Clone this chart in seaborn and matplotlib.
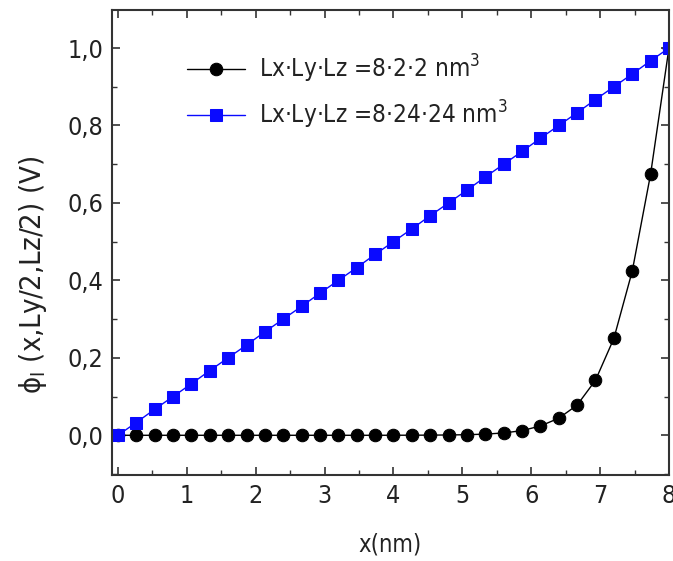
import matplotlib
matplotlib.use("Agg")
import matplotlib.pyplot as plt
import seaborn as sns
import pandas as pd
from matplotlib.ticker import MultipleLocator, FuncFormatter
from matplotlib import font_manager as fm

x_nm = [0.0, 0.267, 0.533, 0.8, 1.067, 1.333, 1.6, 1.867, 2.133, 2.4, 2.667,
        2.933, 3.2, 3.467, 3.733, 4.0, 4.267, 4.533, 4.8, 5.067, 5.333,
        5.6, 5.867, 6.133, 6.4, 6.667, 6.933, 7.2, 7.467, 7.733, 8.0]
phi_small = [0.0, 0.0, 0.0, 0.0, 0.0, 0.0, 0.0, 0.0, 0.0, 0.0, 0.0,
             0.0, 0.0, 0.0, 0.0, 0.0001, 0.0002, 0.0004, 0.0008, 0.0015, 0.003,
             0.006, 0.012, 0.024, 0.044, 0.078, 0.142, 0.25, 0.424, 0.674, 1.0]
phi_large = [0.0, 0.033, 0.067, 0.1, 0.133, 0.167, 0.2, 0.233, 0.267, 0.3, 0.333,
             0.367, 0.4, 0.433, 0.467, 0.5, 0.533, 0.567, 0.6, 0.633, 0.667,
             0.7, 0.733, 0.767, 0.8, 0.833, 0.867, 0.9, 0.933, 0.967, 1.0]
labels = [r"Lx·Ly·Lz =8·2·2 nm$^3$", r"Lx·Ly·Lz =8·24·24 nm$^3$"]

df_small = pd.DataFrame({"x": x_nm, "phi": phi_small})
df_large = pd.DataFrame({"x": x_nm, "phi": phi_large})

sns.set_theme(style="ticks")
names = {f.name for f in fm.fontManager.ttflist}
fam = "DejaVu Sans"
for cand in ["Liberation Sans Narrow", "DejaVu Sans Condensed"]:
    if cand in names:
        fam = cand
        break
plt.rcParams["font.family"] = [fam, "DejaVu Sans"]
plt.rcParams["font.stretch"] = "condensed"
plt.rcParams["mathtext.fontset"] = "custom"
plt.rcParams["mathtext.rm"] = fam
plt.rcParams["mathtext.it"] = fam
plt.rcParams["mathtext.sf"] = fam

fig = plt.figure(figsize=(6.73, 5.61), dpi=100)
ax = fig.add_axes([0.166, 0.153, 0.828, 0.829])

sns.lineplot(data=df_small, x="x", y="phi", ax=ax, color="black", lw=1.0,
             marker="o", markersize=9, markeredgecolor="black", label=labels[0])
sns.lineplot(data=df_large, x="x", y="phi", ax=ax, color="#0a0aff", lw=1.0,
             marker="s", markersize=8.3, markeredgecolor="#0a0aff", label=labels[1])

ax.set_xlim(-0.09, 8.0)
ax.set_ylim(-0.103, 1.098)
ax.xaxis.set_major_locator(MultipleLocator(1))
ax.xaxis.set_minor_locator(MultipleLocator(0.5))
ax.yaxis.set_major_locator(MultipleLocator(0.2))
ax.yaxis.set_minor_locator(MultipleLocator(0.1))
ax.yaxis.set_major_formatter(FuncFormatter(lambda v, p: f"{v:.1f}".replace(".", ",").replace("-0,0", "0,0")))

ax.tick_params(which="both", direction="in", top=True, right=True, color="#333333",
               labelsize=18, labelcolor="#222222", pad=6)
ax.tick_params(which="major", length=6, width=1.2)
ax.tick_params(which="minor", length=3.5, width=1.0)
for s in ax.spines.values():
    s.set_linewidth(1.5)
    s.set_color("#333333")

ax.set_xlabel("x(nm)", fontsize=17, color="#222222", labelpad=18)
ax.set_ylabel(r"$\phi_{\mathrm{I}}$ (x,Ly/2,Lz/2) (V)", fontsize=21, color="#222222")
ax.yaxis.set_label_coords(-0.112, 0.43)

leg = ax.legend(loc="upper left", bbox_to_anchor=(0.095, 0.955), frameon=False,
                fontsize=17.5, handlelength=2.4, labelspacing=0.55, handletextpad=0.6)
for t in leg.get_texts():
    t.set_color("#222222")

fig.savefig("out.png", dpi=100)
